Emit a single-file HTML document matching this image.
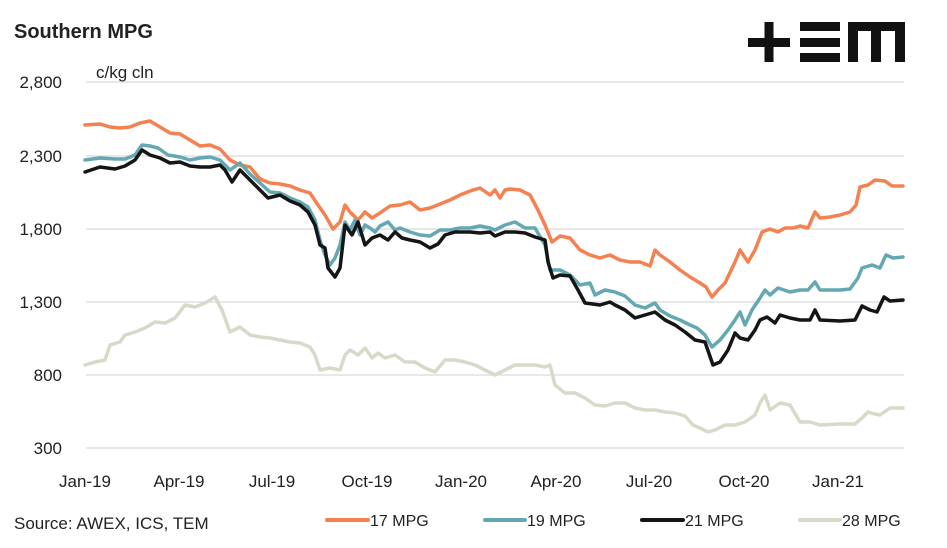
<!DOCTYPE html>
<html><head><meta charset="utf-8"><style>
body{margin:0;background:#fff;}
svg text{font-family:"Liberation Sans",sans-serif;fill:#222;}
</style></head><body>
<svg width="947" height="543" viewBox="0 0 947 543" xmlns="http://www.w3.org/2000/svg">
<text x="14" y="38" font-size="20" font-weight="bold">Southern MPG</text>
<text x="96" y="78" font-size="17">c/kg cln</text>
<g fill="#111">
<rect x="748" y="38" width="42" height="9"/><rect x="764.5" y="22" width="9" height="40"/>
<rect x="800" y="22" width="40" height="9"/><rect x="800" y="38" width="40" height="9"/><rect x="800" y="53" width="40" height="9"/>
<rect x="848" y="22" width="57" height="9"/><rect x="848" y="22" width="10" height="40"/><rect x="871" y="22" width="10" height="40"/><rect x="895" y="22" width="10" height="40"/>
</g>
<g stroke="#d9d9d9" stroke-width="1.3">
<line x1="86" x2="904" y1="82" y2="82"/><line x1="86" x2="904" y1="156" y2="156"/><line x1="86" x2="904" y1="229" y2="229"/><line x1="86" x2="904" y1="302" y2="302"/><line x1="86" x2="904" y1="375" y2="375"/><line x1="86" x2="904" y1="448" y2="448"/>
</g>
<g font-size="17" text-anchor="end">
<text x="62" y="88">2,800</text><text x="62" y="162">2,300</text><text x="62" y="235">1,800</text><text x="62" y="308">1,300</text><text x="62" y="381">800</text><text x="62" y="454">300</text>
</g>
<g font-size="17" text-anchor="middle">
<text x="85" y="487">Jan-19</text><text x="179" y="487">Apr-19</text><text x="272" y="487">Jul-19</text><text x="367" y="487">Oct-19</text><text x="461" y="487">Jan-20</text><text x="556" y="487">Apr-20</text><text x="649" y="487">Jul-20</text><text x="744" y="487">Oct-20</text><text x="838" y="487">Jan-21</text>
</g>
<g fill="none" stroke-width="3.5" stroke-linejoin="round" stroke-linecap="round">
<polyline stroke="#d8dac9" points="85,365 95,362 105,360 110,345 120,342 125,335 135,332 145,328 155,322 165,323 175,318 185,305 195,307 205,303 215,297 222,310 230,332 240,327 250,335 260,337 270,338 280,340 290,342 300,343 310,347 315,355 320,370 330,368 340,370 345,355 350,350 358,355 365,348 372,358 378,353 385,358 395,355 405,362 415,362 425,368 435,372 445,360 455,360 465,362 475,365 485,370 495,375 505,370 515,365 525,365 535,365 545,367 550,365 555,385 565,393 575,393 585,398 595,405 605,406 615,403 625,403 635,408 645,410 655,410 665,412 675,413 685,416 693,425 700,428 708,432 715,430 725,425 735,425 745,422 755,415 760,403 765,395 770,410 780,403 790,405 800,422 810,422 820,425 840,424 855,424 862,418 868,412 875,414 880,415 890,408 903,408"/>
<polyline stroke="#f4814f" points="85,125 100,124 110,127 120,128 130,127 140,123 150,121 160,127 170,133 180,134 190,140 200,146 210,145 220,149 230,160 240,165 250,167 260,179 270,183 280,184 290,186 300,190 310,193 318,205 325,215 333,229 340,222 345,205 350,212 358,220 365,212 372,218 380,213 390,206 400,205 410,202 420,210 430,208 440,204 450,200 460,195 470,191 480,188 490,195 495,190 500,198 505,190 510,189 520,190 530,195 538,210 545,225 552,242 560,236 570,238 580,250 590,255 600,258 610,255 620,260 630,262 640,262 650,266 655,250 660,255 670,262 680,270 690,277 700,283 706,287 712,297 718,290 725,283 735,262 740,250 748,262 755,250 762,232 770,229 778,232 785,228 793,228 800,226 808,228 815,212 820,218 830,217 840,215 850,212 856,205 860,187 868,185 875,180 885,181 892,186 903,186"/>
<polyline stroke="#63a8b2" points="85,160 100,158 115,159 125,159 135,155 142,145 150,146 158,148 168,155 180,157 190,160 200,158 210,157 220,160 230,170 240,163 250,174 260,183 270,192 280,193 290,198 300,202 308,207 315,220 320,240 325,255 330,265 335,258 340,245 345,222 350,230 355,220 360,235 365,225 370,228 375,232 380,226 388,222 395,230 400,228 410,232 420,235 430,236 440,230 450,230 460,228 470,228 480,226 490,228 495,230 505,225 515,222 525,228 535,228 545,245 550,270 560,270 570,275 580,285 590,283 595,295 605,290 615,292 625,296 635,305 645,308 655,303 660,310 670,316 680,320 690,325 697,328 705,335 712,347 720,340 728,330 735,320 740,312 745,325 752,310 760,298 765,290 770,295 778,288 790,292 800,290 808,290 815,282 820,290 840,290 850,289 858,278 862,268 872,265 880,268 886,255 893,258 903,257"/>
<polyline stroke="#151515" points="85,172 100,167 115,169 125,166 135,160 142,150 150,155 160,158 170,163 180,162 190,166 200,167 210,167 220,165 225,170 232,182 240,170 250,180 260,190 268,198 280,195 290,201 300,205 308,212 315,225 320,245 325,248 328,268 335,277 340,268 345,225 352,235 358,222 365,245 372,238 380,235 388,240 395,232 402,238 410,240 420,242 430,248 438,244 445,235 455,232 470,232 480,233 490,232 495,236 505,232 515,232 525,233 535,237 545,240 548,262 553,278 560,275 570,276 578,290 585,303 600,305 610,302 615,305 625,310 635,318 645,315 655,312 665,320 675,325 685,332 695,340 705,342 713,365 720,362 728,350 735,333 740,338 748,340 755,330 760,320 767,317 775,323 780,315 790,318 800,320 810,320 815,310 820,320 840,321 855,320 862,306 870,310 877,312 884,297 890,301 903,300"/>
</g>
<text x="14" y="529" font-size="17">Source: AWEX, ICS, TEM</text>
<g stroke-width="4" stroke-linecap="round">
<line x1="327" x2="368" y1="520" y2="520" stroke="#f4814f"/>
<line x1="485" x2="525" y1="520" y2="520" stroke="#63a8b2"/>
<line x1="642" x2="683" y1="520" y2="520" stroke="#151515"/>
<line x1="800" x2="840" y1="520" y2="520" stroke="#d8dac9"/>
</g>
<g font-size="16">
<text x="370" y="526">17 MPG</text><text x="527" y="526">19 MPG</text><text x="685" y="526">21 MPG</text><text x="842" y="526">28 MPG</text>
</g>
</svg>
</body></html>
